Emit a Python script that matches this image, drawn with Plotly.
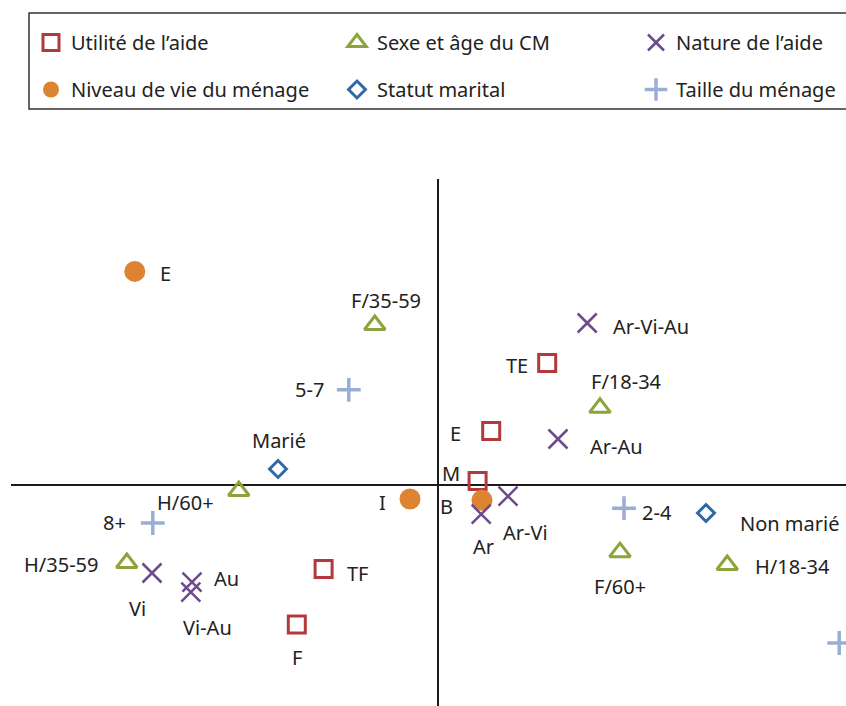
import plotly.graph_objects as go

# ---------------- data ----------------
util_labels = ["TE", "E", "M", "TF", "F"]
util_x = [0.273, 0.133, 0.099, -0.286, -0.353]
util_y = [0.305, 0.135, 0.010, -0.210, -0.349]

niv_labels = ["E", "I", "B"]
niv_x = [-0.758, -0.070, 0.110]
niv_y = [0.534, -0.035, -0.038]

sexe_labels = ["F/35-59", "F/18-34", "H/60+", "H/35-59", "F/60+", "H/18-34"]
sexe_x = [-0.158, 0.405, -0.498, -0.778, 0.455, 0.723]
sexe_y = [0.400, 0.193, -0.015, -0.195, -0.168, -0.200]

nat_labels = ["Ar-Vi-Au", "Ar-Au", "Ar-Vi", "Ar", "Vi", "Au", "Vi-Au"]
nat_x = [0.373, 0.300, 0.175, 0.108, -0.715, -0.615, -0.618]
nat_y = [0.405, 0.115, -0.028, -0.073, -0.220, -0.243, -0.268]

stat_labels = ["Marié", "Non marié"]
stat_x = [-0.400, 0.670]
stat_y = [0.040, -0.070]

taille_labels = ["5-7", "8+", "2-4", "1"]
taille_x = [-0.223, -0.713, 0.465, 1.003]
taille_y = [0.238, -0.095, -0.058, -0.395]

# ---------------- styles ----------------
FONT = "Noto Sans"
TXT = "#222222"

groups = [
    dict(key="Utilité", name="Utilité de l\u2019aide", labels=util_labels, x=util_x, y=util_y,
         symbol="square-open", color="#B23A3E", size=17, lw=3, legend="legend"),
    dict(key="Niveau", name="Niveau de vie du ménage", labels=niv_labels, x=niv_x, y=niv_y,
         symbol="circle", color="#DC8432", size=21, lw=0, legend="legend"),
    dict(key="Sexe", name="Sexe et âge du CM", labels=sexe_labels, x=sexe_x, y=sexe_y,
         symbol="triangle-up-open", color="#8DA33C", size=18, lw=3, legend="legend2"),
    dict(key="Nature", name="Nature de l\u2019aide", labels=nat_labels, x=nat_x, y=nat_y,
         symbol="x-thin-open", color="#6C4A8C", size=19, lw=2.5, legend="legend3"),
    dict(key="Statut", name="Statut marital", labels=stat_labels, x=stat_x, y=stat_y,
         symbol="diamond-open", color="#2F69A5", size=13, lw=3, legend="legend2"),
    dict(key="Taille", name="Taille du ménage", labels=taille_labels, x=taille_x, y=taille_y,
         symbol="cross-thin-open", color="#9AAED3", size=17, lw=3.5, legend="legend3"),
]

# label placement: (xanchor, dx px, dy px downward)
label_pos = {
    ("Utilité", "TE"): ("right", -17, 2),
    ("Utilité", "E"): ("right", -28, 2),
    ("Utilité", "M"): ("right", -16, -8),
    ("Utilité", "TF"): ("left", 21, 4),
    ("Utilité", "F"): ("center", 0, 33),
    ("Niveau", "E"): ("left", 23, 2),
    ("Niveau", "I"): ("right", -22, 3),
    ("Niveau", "B"): ("right", -27, 6),
    ("Sexe", "F/35-59"): ("center", 11, -25),
    ("Sexe", "F/18-34"): ("center", 26, -26),
    ("Sexe", "H/60+"): ("right", -23, 11),
    ("Sexe", "H/35-59"): ("right", -27, 1),
    ("Sexe", "F/60+"): ("center", 0, 34),
    ("Sexe", "H/18-34"): ("left", 26, 1),
    ("Nature", "Ar-Vi-Au"): ("left", 24, 3),
    ("Nature", "Ar-Au"): ("left", 30, 7),
    ("Nature", "Ar-Vi"): ("center", 17, 36),
    ("Nature", "Ar"): ("center", 2, 32),
    ("Nature", "Vi"): ("center", -15, 35),
    ("Nature", "Au"): ("left", 20, -4),
    ("Nature", "Vi-Au"): ("center", 17, 35),
    ("Statut", "Marié"): ("center", 1, -29),
    ("Statut", "Non marié"): ("left", 32, 10),
    ("Taille", "5-7"): ("right", -23, 0),
    ("Taille", "8+"): ("right", -25, -1),
    ("Taille", "2-4"): ("left", 16, 4),
}

fig = go.Figure()
annotations = []
for g in groups:
    fig.add_trace(go.Scatter(
        x=g["x"], y=g["y"], mode="markers", name=g["name"],
        legend=g["legend"], legendgroup=g["key"], hoverinfo="skip",
        marker=dict(symbol=g["symbol"], size=g["size"], color=g["color"],
                    line=dict(width=g["lw"], color=g["color"])),
    ))
    for lab, xv, yv in zip(g["labels"], g["x"], g["y"]):
        pos = label_pos.get((g["key"], lab))
        if pos is None:
            continue
        anchor, dx, dy = pos
        annotations.append(dict(
            x=xv, y=yv, xref="x", yref="y", text=lab, showarrow=False,
            xanchor=anchor, yanchor="middle", xshift=dx, yshift=-dy,
            font=dict(family=FONT, size=20, color=TXT),
        ))

W, H = 846, 706
ML, MR, MT, MB = 11, 0, 179, 0
PW, PH = W - ML - MR, H - MT - MB


def px2paper_x(px):
    return (px - ML) / PW


def py2paper_y(py):
    return (H - MB - py) / PH


legend_common = dict(
    orientation="v", xanchor="left", yanchor="middle",
    font=dict(family=FONT, size=20, color=TXT),
    bgcolor="rgba(0,0,0,0)", borderwidth=0,
    tracegroupgap=18, y=py2paper_y(66),
)

fig.update_layout(
    width=W, height=H,
    margin=dict(l=ML, r=MR, t=MT, b=MB, pad=0),
    paper_bgcolor="white", plot_bgcolor="white",
    showlegend=True,
    legend=dict(x=px2paper_x(31), **legend_common),
    legend2=dict(x=px2paper_x(337), **legend_common),
    legend3=dict(x=px2paper_x(636), **legend_common),
    xaxis=dict(range=[(ML - 438) / 400, (W - MR - 438) / 400],
               showgrid=False, showticklabels=False, ticks="",
               zeroline=True, zerolinecolor="#1a1a1a", zerolinewidth=2,
               showline=False, fixedrange=True),
    yaxis=dict(range=[(485 - (H - MB)) / 400, (485 - MT) / 400],
               showgrid=False, showticklabels=False, ticks="",
               zeroline=True, zerolinecolor="#1a1a1a", zerolinewidth=2,
               showline=False, fixedrange=True),
    annotations=annotations,
    shapes=[dict(type="rect", xref="paper", yref="paper",
                 x0=px2paper_x(29), x1=px2paper_x(852),
                 y0=py2paper_y(109), y1=py2paper_y(13),
                 line=dict(color="#333333", width=1.5),
                 fillcolor="rgba(0,0,0,0)")],
    font=dict(family=FONT, color=TXT),
)

fig.write_html("out.html", config={"displayModeBar": False},
               post_script="document.body.style.margin='0';")
